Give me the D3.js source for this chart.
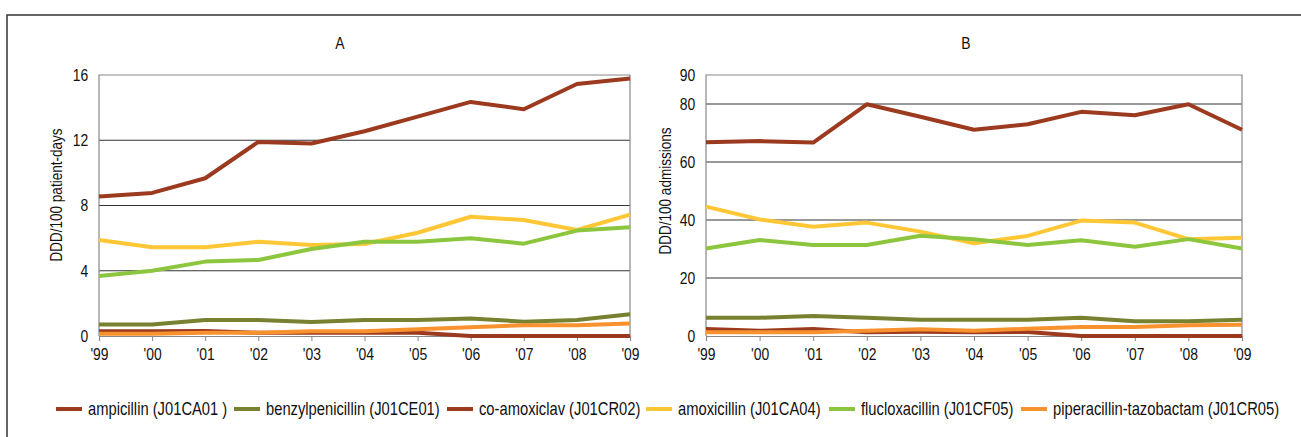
<!DOCTYPE html>
<meta charset="utf-8">
<style>
body { margin: 0; background: #fff; }
svg text { font-family: "Liberation Sans", Arial, sans-serif; fill: #111; }
.grid line { stroke: #333; stroke-width: 1; }
.frame { fill: none; stroke: #888; stroke-width: 1.2; }
.series { fill: none; stroke-width: 4; stroke-linejoin: round; }
</style>
<body>
<div id="chart"></div>
<script src="https://cdnjs.cloudflare.com/ajax/libs/d3/7.8.5/d3.min.js"></script>
<script>

var width = 1301,
    height = 437,
    narrow = 0.82;   // squeeze text horizontally, the original uses a narrow face

// years on the x axis
var years = ["'99", "'00", "'01", "'02", "'03", "'04", "'05", "'06", "'07", "'08", "'09"];

var drugs = ["ampicillin (J01CA01 )", "benzylpenicillin (J01CE01)", "co-amoxiclav (J01CR02)",
             "amoxicillin (J01CA04)", "flucloxacillin (J01CF05)", "piperacillin-tazobactam (J01CR05)"];
var colors = ["#9b3a1e", "#77812f", "#9b3a1e", "#ffc735", "#8cc63f", "#f7922f"];

// panel A : DDD/100 patient-days
var ampicillinA  = [0.29, 0.29, 0.3, 0.2, 0.2, 0.2, 0.2, 0, 0, 0, 0];
var benzylA      = [0.7, 0.7, 0.98, 0.98, 0.86, 0.98, 0.98, 1.08, 0.88, 0.98, 1.33];
var coamoxA      = [8.55, 8.77, 9.67, 11.9, 11.8, 12.55, 13.45, 14.35, 13.9, 15.45, 15.78];
var amoxA        = [5.89, 5.44, 5.44, 5.78, 5.58, 5.64, 6.33, 7.31, 7.11, 6.5, 7.44];
var fluclA       = [3.68, 4.0, 4.56, 4.66, 5.33, 5.78, 5.78, 5.99, 5.66, 6.46, 6.66];
var piptazA      = [0.14, 0.14, 0.2, 0.2, 0.29, 0.29, 0.41, 0.53, 0.66, 0.66, 0.76];
var ticksA = [0, 4, 8, 12, 16];

// panel B : DDD/100 admissions
var ampicillinB  = [2.4, 1.8, 2.4, 1.3, 1.5, 1.3, 1.4, 0, 0, 0, 0];
var benzylB      = [6.3, 6.3, 6.9, 6.3, 5.6, 5.6, 5.6, 6.3, 5.05, 5.05, 5.6];
var coamoxB      = [66.8, 67.2, 66.7, 79.9, 75.6, 71.1, 73.0, 77.3, 76.1, 79.9, 71.1];
var amoxB        = [44.6, 40.2, 37.7, 39.1, 36.0, 32.0, 34.5, 39.8, 39.1, 33.4, 33.9];
var fluclB       = [30.2, 33.1, 31.4, 31.4, 34.6, 33.4, 31.4, 33.0, 30.8, 33.4, 30.2];
var piptazB      = [1.3, 1.3, 1.3, 1.8, 2.3, 1.8, 2.5, 3.1, 3.1, 3.7, 3.9];
var ticksB = [0, 20, 40, 60, 80, 90];

var svg = d3.select("#chart")
    .append("svg")
    .attr("width", width)
    .attr("height", height);

svg.append("rect").attr("width", width).attr("height", height).attr("fill", "#fff");

// outer border (runs off the right and bottom)
svg.append("path")
    .attr("d", "M7," + height + "V15H" + width)
    .attr("fill", "none")
    .attr("stroke", "#333")
    .attr("stroke-width", 1.5);

function drawPanel(opts) {
    var x = d3.scalePoint().domain(years).range([opts.left, opts.right]);
    var y = d3.scaleLinear().domain([0, opts.max]).range([336, 75]);

    var g = svg.append("g");

    // horizontal grid lines (not at 0 and top)
    g.append("g").attr("class", "grid")
        .selectAll("line")
        .data(opts.ticks.filter(function(t) { return t > 0 && t < opts.max; }))
        .enter().append("line")
        .attr("x1", opts.left).attr("x2", opts.right)
        .attr("y1", function(d) { return y(d); })
        .attr("y2", function(d) { return y(d); });

    // frame: top, left, right
    g.append("path").attr("class", "frame")
        .attr("d", "M" + opts.left + "," + y(0) + "V" + y(opts.max) + "H" + opts.right + "V" + y(0));

    // x axis
    var xAxis = d3.axisBottom(x).tickSize(5).tickPadding(7);
    var ax = g.append("g").attr("transform", "translate(0," + y(0) + ")").call(xAxis);
    ax.select(".domain").attr("stroke", "#888").attr("stroke-width", 1.2);
    ax.selectAll(".tick line").attr("stroke", "#888");
    ax.selectAll("text").style("font-size", "17px").attr("fill", "#111")
        .attr("transform", "scale(" + narrow + ",1)");

    // y tick labels
    var yAxis = d3.axisLeft(y).tickValues(opts.ticks).tickSize(0).tickPadding(13);
    var ay = g.append("g").attr("transform", "translate(" + opts.left + ",0)").call(yAxis);
    ay.select(".domain").remove();
    ay.selectAll("text").style("font-size", "17px").attr("fill", "#111")
        .attr("transform", "scale(" + narrow + ",1)");

    // series lines
    var line = d3.line()
        .x(function(d, i) { return x(years[i]); })
        .y(function(d) { return y(d); });

    g.selectAll("path.series")
        .data(opts.series)
        .enter().append("path")
        .attr("class", "series")
        .attr("stroke", function(d, i) { return colors[i]; })
        .attr("d", line);

    // title and axis label
    g.append("text")
        .attr("transform", "translate(" + opts.titleX + ",49) scale(" + narrow + ",1)")
        .attr("text-anchor", "middle")
        .style("font-size", "17px")
        .text(opts.title);

    g.append("text")
        .attr("transform", "translate(" + opts.labelX + "," + opts.labelY + ") rotate(-90) scale(" + narrow + ",1)")
        .attr("text-anchor", "middle")
        .attr("dy", "0.35em")
        .style("font-size", "16.5px")
        .text(opts.label);
}

drawPanel({
    left: 99, right: 630, max: 16, ticks: ticksA,
    series: [ampicillinA, benzylA, coamoxA, amoxA, fluclA, piptazA],
    title: "A", titleX: 340,
    label: "DDD/100 patient-days", labelX: 56, labelY: 195
});

drawPanel({
    left: 706, right: 1242, max: 90, ticks: ticksB,
    series: [ampicillinB, benzylB, coamoxB, amoxB, fluclB, piptazB],
    title: "B", titleX: 966,
    label: "DDD/100 admissions", labelX: 665, labelY: 191
});

// legend
var legendX = [56, 234, 447, 646, 829, 1021];
var legend = svg.append("g").selectAll("g")
    .data(drugs)
    .enter().append("g")
    .attr("transform", function(d, i) { return "translate(" + legendX[i] + ",409)"; });

legend.append("line")
    .attr("x1", 0).attr("x2", 26)
    .attr("stroke", function(d, i) { return colors[i]; })
    .attr("stroke-width", 4);

legend.append("text")
    .attr("transform", "translate(32,0) scale(" + narrow + ",1)")
    .attr("dy", "0.35em")
    .style("font-size", "18px")
    .text(function(d) { return d; });

</script>
</body>
